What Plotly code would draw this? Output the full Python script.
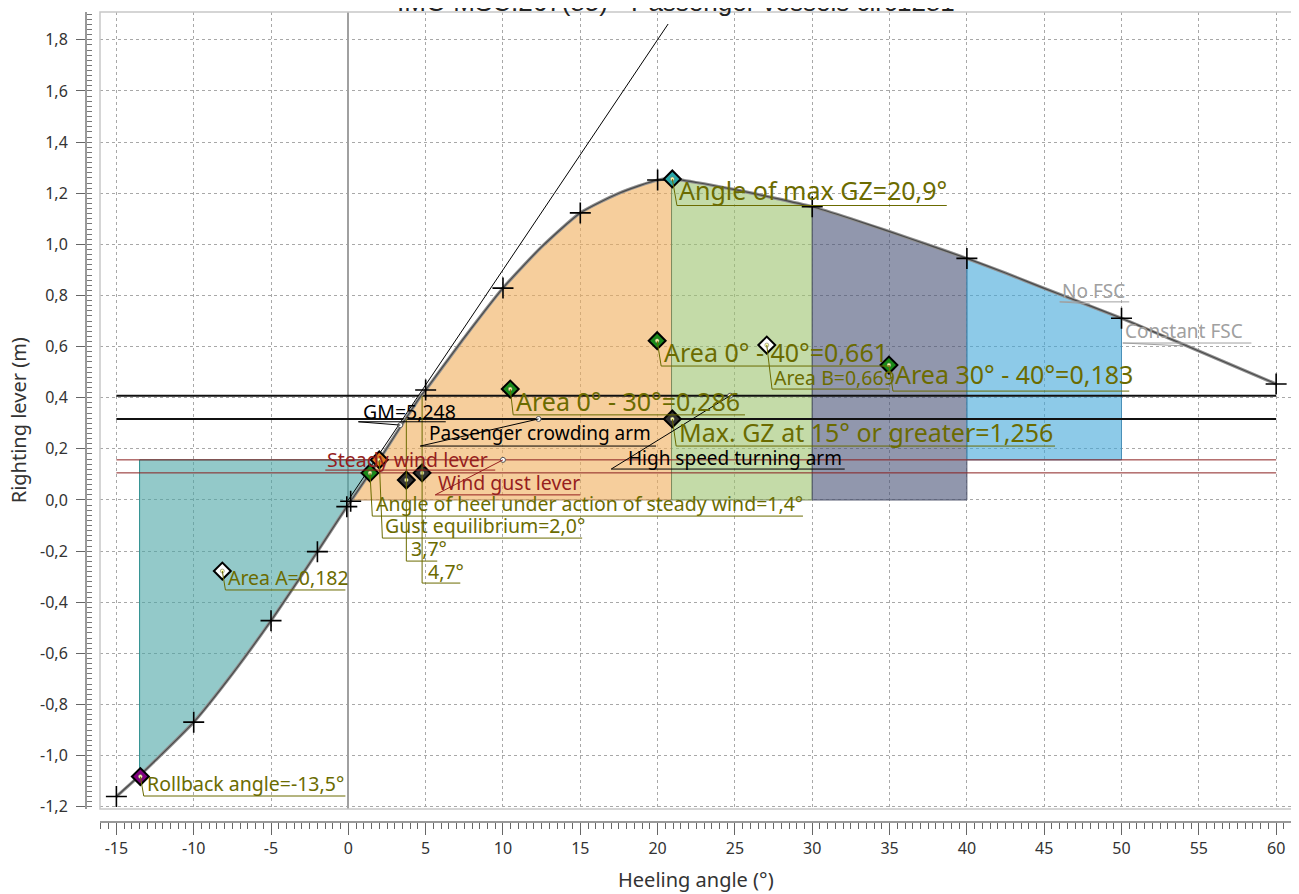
import plotly.graph_objects as go

# ---------------- data ----------------
title_text = "IMO MSC.267(85) - Passenger vessels circ1281"
x_title = "Heeling angle (°)"
y_title = "Righting lever (m)"

# GZ curve
curve_angle = [-15, -13.5, -12.5, -10, -7.5, -5, -3.5, -2, -0.1, 0.15,
               1.4, 2.0, 3.7, 4.7, 5, 7.5, 10, 12.5, 15, 17.5,
               20, 20.9, 22.5, 25, 27.5, 30, 32.5, 35, 37.5, 40,
               42.5, 45, 47.5, 50, 52.5, 55, 57.5, 60]
curve_gz = [-1.160, -1.078, -1.020, -0.869, -0.680, -0.472, -0.338, -0.202, -0.026, -0.005,
            0.106, 0.157, 0.317, 0.408, 0.430, 0.635, 0.829, 0.990, 1.123, 1.200,
            1.252, 1.256, 1.242, 1.214, 1.182, 1.147, 1.100, 1.050, 0.998, 0.945,
            0.888, 0.828, 0.770, 0.711, 0.647, 0.583, 0.518, 0.454]

# computed points marked with "+"
point_angle = [-15, -10, -5, -2, -0.1, 0.15, 5, 10, 15, 20, 30, 40, 50, 60]

# heeling levers (m)
lever_names = ["High speed turning arm", "Passenger crowding arm", "Wind gust lever", "Steady wind lever"]
lever_values = [0.408, 0.317, 0.157, 0.106]
lever_span = [-15, 60]

# GM tangent
gm_tangent_angle = [0, 20.68]
gm_tangent_gz = [0, 1.862]

# area limits (deg)
rollback_angle = -13.5
gust_equilibrium = 2.0
angle_max_gz = 20.9
area_limits = [30, 40, 50]

# criteria markers
marker_names = ["Rollback angle", "Area A", "Steady wind heel", "Gust equilibrium", "Crowding heel",
                "Turning heel", "Area 0-30", "Area 0-40", "Area B", "Area 30-40", "Max GZ", "Angle of max GZ"]
marker_angle = [-13.45, -8.15, 1.4, 2.0, 3.75, 4.77, 10.47, 19.97, 27.06, 34.96, 20.95, 20.95]
marker_value = [-1.082, -0.278, 0.106, 0.157, 0.078, 0.106, 0.434, 0.623, 0.606, 0.528, 0.317, 1.256]

x_tickvals = [-15, -10, -5, 0, 5, 10, 15, 20, 25, 30, 35, 40, 45, 50, 55, 60]
x_ticktext = ["-15", "-10", "-5", "0", "5", "10", "15", "20", "25", "30", "35", "40", "45", "50", "55", "60"]
y_tickvals = [-1.2, -1.0, -0.8, -0.6, -0.4, -0.2, 0.0, 0.2, 0.4, 0.6, 0.8, 1.0, 1.2, 1.4, 1.6, 1.8]
y_ticktext = ["-1,2", "-1,0", "-0,8", "-0,6", "-0,4", "-0,2", "0,0", "0,2", "0,4", "0,6", "0,8",
              "1,0", "1,2", "1,4", "1,6", "1,8"]

# ---------------- styles ----------------
FONT = "Noto Sans"
OLIVE = "#6b6b00"
DARKRED = "#961e1e"
GRAY = "#a0a0a0"
BLACK = "#000000"
marker_fill = ["#800080", "#ffffff", "#1a8a1a", "#e07b20", "#333333", "#333333",
               "#1a8a1a", "#1a8a1a", "#ffffff", "#1a8a1a", "#333333", "#2aa8a8"]
BIG = 25
SMALL = 19.5

fig = go.Figure()


def seg(a0, a1):
    return [(a, g) for a, g in zip(curve_angle, curve_gz) if a0 <= a <= a1]


def add_area(a0, a1, base, fill, edge):
    pts = seg(a0, a1)
    xs = [p[0] for p in pts] + [a1, a0, pts[0][0]]
    ys = [p[1] for p in pts] + [base, base, pts[0][1]]
    fig.add_trace(go.Scatter(x=xs, y=ys, mode="lines", fill="toself", fillcolor=fill,
                             line=dict(color=edge, width=1), hoverinfo="skip", showlegend=False))


# Area A (teal): between curve and gust lever from rollback to gust equilibrium
pts = seg(rollback_angle, gust_equilibrium)
xs = [rollback_angle, gust_equilibrium] + [p[0] for p in reversed(pts)] + [rollback_angle]
ys = [lever_values[2], lever_values[2]] + [p[1] for p in reversed(pts)] + [lever_values[2]]
fig.add_trace(go.Scatter(x=xs, y=ys, mode="lines", fill="toself", fillcolor="rgba(75,165,165,0.6)",
                         line=dict(color="#2a8c8c", width=1), hoverinfo="skip", showlegend=False))

add_area(0.15, angle_max_gz, 0, "rgba(240,173,90,0.6)", "#b08a60")
add_area(angle_max_gz, area_limits[0], 0, "rgba(157,195,110,0.6)", "#7d8c60")
add_area(area_limits[0], area_limits[1], 0, "rgba(72,82,118,0.6)", "#555a70")
add_area(area_limits[1], area_limits[2], lever_values[2], "rgba(65,167,217,0.6)", "#4a90b8")

# lever lines
lever_colors = ["#111111", "#111111", "#8b2020", "#8b2020"]
lever_widths = [2, 2, 1, 1]
for v, c, w in zip(lever_values, lever_colors, lever_widths):
    fig.add_trace(go.Scatter(x=lever_span, y=[v, v], mode="lines", line=dict(color=c, width=w),
                             hoverinfo="skip", showlegend=False))

# GM tangent
fig.add_trace(go.Scatter(x=gm_tangent_angle, y=gm_tangent_gz, mode="lines",
                         line=dict(color="#000000", width=1), hoverinfo="skip", showlegend=False))

# GZ curves (No FSC / Constant FSC)
fig.add_trace(go.Scatter(x=curve_angle, y=curve_gz, mode="lines",
                         line=dict(color="#909090", width=3.2, shape="spline", smoothing=0.6),
                         hoverinfo="skip", showlegend=False))
fig.add_trace(go.Scatter(x=curve_angle, y=curve_gz, mode="lines",
                         line=dict(color="#4a4a4a", width=1.2, shape="spline", smoothing=0.6),
                         hoverinfo="skip", showlegend=False))

# + markers
point_gz = [curve_gz[curve_angle.index(a)] for a in point_angle]
fig.add_trace(go.Scatter(x=point_angle, y=point_gz, mode="markers",
                         marker=dict(symbol="cross-thin", size=15, line=dict(color="#000000", width=1.6)),
                         hoverinfo="skip", showlegend=False))

# labels: text, text x, text y, underline y, underline x0, x1, size, color, leader anchor
labels = [
    ("Angle of max GZ=20,9°", 21.30, 1.213, 1.152, 21.25, 38.70, BIG, OLIVE, (20.95, 1.256)),
    ("Area 0° - 40°=0,661", 20.36, 0.579, 0.524, 20.23, 35.0, BIG, OLIVE, (19.97, 0.623)),
    ("Area B=0,669", 27.46, 0.481, 0.434, 27.40, 35.0, SMALL, OLIVE, (27.06, 0.606)),
    ("Area 30° - 40°=0,183", 35.28, 0.493, 0.426, 35.22, 50.5, BIG, OLIVE, (34.96, 0.528)),
    ("Area 0° - 30°=0,286", 10.79, 0.387, 0.333, 10.66, 25.65, BIG, OLIVE, (10.47, 0.434)),
    ("Max. GZ at 15° or greater=1,256", 21.32, 0.266, 0.211, 21.2, 45.7, BIG, OLIVE, (20.95, 0.317)),
    ("Angle of heel under action of steady wind=1,4°", 1.745, -0.012, -0.063, 1.55, 29.4, SMALL, OLIVE, (1.4, 0.106)),
    ("Gust equilibrium=2,0°", 2.33, -0.098, -0.149, 2.2, 15.12, SMALL, OLIVE, (2.0, 0.157)),
    ("3,7°", 4.0, -0.188, -0.239, 3.75, 5.75, SMALL, OLIVE, (3.75, 0.317)),
    ("4,7°", 5.1, -0.278, -0.325, 4.77, 7.24, SMALL, OLIVE, (4.77, 0.408)),
    ("Area A=0,182", -7.82, -0.305, -0.352, -7.95, -0.19, SMALL, OLIVE, (-8.15, -0.278)),
    ("Rollback angle=-13,5°", -13.11, -1.111, -1.158, -13.23, -0.19, SMALL, OLIVE, (-13.45, -1.082)),
    ("GM=5,248", 0.9, 0.348, 0.306, 0.65, 6.3, SMALL, BLACK, (3.36, 0.293)),
    ("Passenger crowding arm", 5.17, 0.262, 0.211, 4.65, 19.9, 19, BLACK, (12.3, 0.317)),
    ("High speed turning arm", 18.03, 0.164, 0.121, 17.0, 32.1, 19, BLACK, (24.69, 0.408)),
    ("Steady wind lever", -1.42, 0.160, 0.117, -1.49, 9.5, SMALL, DARKRED, None),
    ("Wind gust lever", 5.75, 0.0665, 0.020, 5.62, 15.0, SMALL, DARKRED, (10.0, 0.157)),
    ("No FSC", 46.07, 0.818, 0.775, 46.0, 50.5, 19, GRAY, (47.95, 0.767)),
    ("Constant FSC", 50.15, 0.661, 0.614, 50.08, 58.4, 19, GRAY, (53.96, 0.603)),
]

shapes = []
annotations = []
leader_pts_x, leader_pts_y = [], []
for text, tx, ty, uy, ux0, ux1, size, color, anchor in labels:
    annotations.append(dict(x=tx, y=ty, xref="x", yref="y", text=text, showarrow=False,
                            xanchor="left", yanchor="middle", borderpad=0,
                            font=dict(family=FONT, size=size, color=color)))
    shapes.append(dict(type="line", xref="x", yref="y", x0=ux0, x1=ux1, y0=uy, y1=uy,
                       line=dict(color=color, width=1), layer="above"))
    if anchor is not None:
        shapes.append(dict(type="line", xref="x", yref="y", x0=anchor[0], y0=anchor[1], x1=ux0, y1=uy,
                           line=dict(color=color, width=1), layer="above"))
        if color in (BLACK, DARKRED):
            leader_pts_x.append(anchor[0])
            leader_pts_y.append(anchor[1])

# diamonds
fig.add_trace(go.Scatter(x=marker_angle, y=marker_value, mode="markers",
                         marker=dict(symbol="diamond", size=13, color=marker_fill,
                                     line=dict(color="#000000", width=2)),
                         hoverinfo="skip", showlegend=False))
fig.add_trace(go.Scatter(x=marker_angle, y=marker_value, mode="markers",
                         marker=dict(symbol="circle", size=4, color="#ffffb0",
                                     line=dict(color="#666666", width=0.5)),
                         hoverinfo="skip", showlegend=False))
fig.add_trace(go.Scatter(x=leader_pts_x, y=leader_pts_y, mode="markers",
                         marker=dict(symbol="circle", size=5, color="#ffffff",
                                     line=dict(color="#555555", width=1)),
                         hoverinfo="skip", showlegend=False))

# plot-area frame
shapes.append(dict(type="rect", xref="x domain", yref="y domain", x0=0, x1=1, y0=0, y1=1,
                   line=dict(color="#c8c8c8", width=1.5), layer="above"))

# title (partly above the page edge, as in the reference) and axis titles
annotations.append(dict(x=0.489, y=1.0125, xref="paper", yref="paper", text=title_text,
                        showarrow=False, xanchor="center", yanchor="middle",
                        font=dict(family="Liberation Sans", size=26, color="#222222")))
annotations.append(dict(x=-0.0563, y=0.496, xref="paper", yref="paper", text=y_title, textangle=-90,
                        showarrow=False, xanchor="center", yanchor="middle",
                        font=dict(family=FONT, size=20, color="#333333")))
annotations.append(dict(x=0.5054, y=-0.0716, xref="paper", yref="paper", text=x_title,
                        showarrow=False, xanchor="center", yanchor="middle",
                        font=dict(family=FONT, size=20, color="#333333")))

fig.update_layout(
    width=1291, height=886,
    margin=dict(l=78, r=6, t=4, b=72),
    paper_bgcolor="#ffffff", plot_bgcolor="#ffffff",
    showlegend=False,
    shapes=shapes,
    annotations=annotations,
    xaxis=dict(range=[-16.06, 61.09], domain=[0.0116, 1], anchor="free", position=0,
               tickvals=x_tickvals, ticktext=x_ticktext, ticks="outside", ticklen=12,
               tickcolor="#666666", tickwidth=1, showline=True, linecolor="#999999", linewidth=2,
               showgrid=True, gridcolor="#a8a8a8", griddash="3px,3px", gridwidth=1,
               zeroline=True, zerolinecolor="#a0a0a0", zerolinewidth=1.5,
               tickfont=dict(family=FONT, size=16, color="#333333"),
               minor=dict(ticks="outside", ticklen=6, tick0=0, dtick=0.5, tickcolor="#666666",
                          showgrid=False)),
    yaxis=dict(range=[-1.209, 1.909], domain=[0.016, 1], anchor="free", position=0,
               tickvals=y_tickvals, ticktext=y_ticktext, ticks="outside", ticklen=9,
               tickcolor="#666666", tickwidth=1, showline=True, linecolor="#999999", linewidth=2,
               showgrid=True, gridcolor="#a8a8a8", griddash="3px,3px", gridwidth=1,
               zeroline=False, ticklabelstandoff=5,
               tickfont=dict(family=FONT, size=16, color="#333333"),
               minor=dict(ticks="inside", ticklen=5, tick0=0, dtick=0.02, tickcolor="#777777",
                          showgrid=False)),
)

fig.write_html("out.html")
